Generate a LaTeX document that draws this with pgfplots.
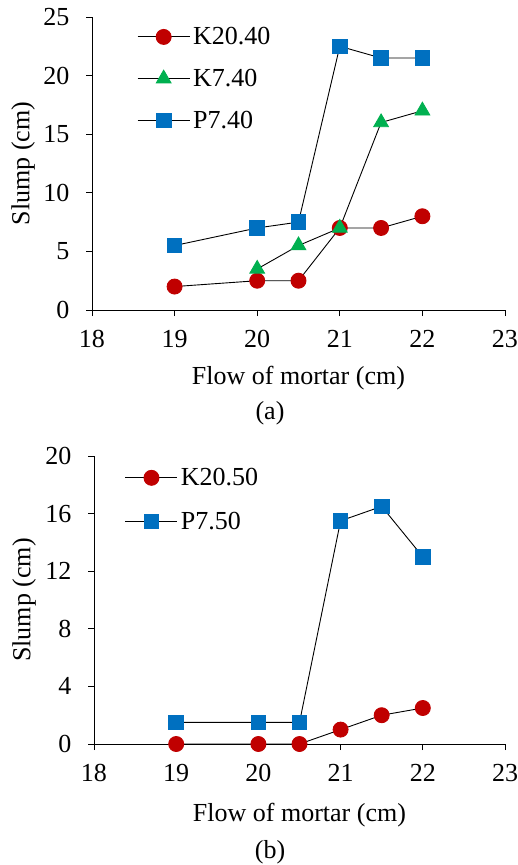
\documentclass[border=0pt]{standalone}
\usepackage{fontspec}
\setmainfont{Liberation Serif}
\usepackage{pgfplots}
\pgfplotsset{compat=1.18}
\definecolor{cred}{HTML}{C00000}
\definecolor{cgreen}{HTML}{00B050}
\definecolor{cblue}{HTML}{0070C0}
\newcommand{\bigf}{\fontsize{26}{30}\selectfont}
\pgfplotsset{
  myaxis/.style={
    scale only axis,
    axis x line*=bottom,
    axis y line*=left,
    axis line style={black, line width=0.9pt},
    tick style={black, line width=0.9pt},
    tick align=outside,
    major tick length=6pt,
    xmin=18, xmax=23,
    xtick={18,19,20,21,22,23},
    clip=false,
    /pgf/number format/assume math mode=true,
    tick label style={font=\bigf},
    xticklabel style={yshift=-11pt},
    yticklabel style={xshift=-13pt},
    xlabel={Flow of mortar (cm)},
    ylabel={Slump (cm)},
    legend cell align=left,
    legend style={draw=none, fill=none, font=\bigf, anchor=north west,
      inner sep=0pt, nodes={inner sep=3pt}},
    legend image code/.code={\draw[mark repeat=2,mark phase=2,#1] plot coordinates {(0pt,0pt)(26pt,0pt)(52pt,0pt)};},
    every axis plot/.append style={black, line width=0.9pt},
  },
  sred/.style={mark=*, mark size=7.5pt, mark options={draw=cred, fill=cred, solid}},
  sgreen/.style={mark=triangle*, mark size=8.5pt, mark options={draw=cgreen, fill=cgreen, solid}},
  sblue/.style={mark=square*, mark size=7.3pt, mark options={draw=cblue, fill=cblue, solid}},
}
\begin{document}
\begin{tikzpicture}
\useasboundingbox (0pt,0pt) rectangle (518pt,-865pt);
\begin{axis}[myaxis,
  at={(92pt,-310pt)}, anchor=south west,
  width=413pt, height=293pt,
  ymin=0, ymax=25, ytick={0,5,10,15,20,25},
  every axis y label/.style={at={(axis description cs:-0.167,0.5)}, rotate=90, anchor=center, font=\bigf},
  every axis x label/.style={at={(axis description cs:0.5,-0.232)}, anchor=center, font=\bigf},
  legend style={at={(axis description cs:0.109,0.975)}, row sep=17pt},
]
\addplot[sred] coordinates {(19,2) (20,2.5) (20.5,2.5) (21,7) (21.5,7) (22,8)};
\addlegendentry{K20.40}
\addplot[sgreen] coordinates {(20,3.5) (20.5,5.5) (21,7) (21.5,16) (22,17)};
\addlegendentry{K7.40}
\addplot[sblue] coordinates {(19,5.5) (20,7) (20.5,7.5) (21,22.5) (21.5,21.5) (22,21.5)};
\addlegendentry{P7.40}
\end{axis}
\node[font=\bigf] at (270pt,-413pt) {(a)};
\begin{axis}[myaxis,
  at={(94pt,-744pt)}, anchor=south west,
  width=411pt, height=288pt,
  ymin=0, ymax=20, ytick={0,4,8,12,16,20},
  every axis y label/.style={at={(axis description cs:-0.170,0.5)}, rotate=90, anchor=center, font=\bigf},
  every axis x label/.style={at={(axis description cs:0.5,-0.247)}, anchor=center, font=\bigf},
  legend style={at={(axis description cs:0.075,0.968)}, row sep=19pt},
]
\addplot[sred] coordinates {(19,0) (20,0) (20.5,0) (21,1) (21.5,2) (22,2.5)};
\addlegendentry{K20.50}
\addplot[sblue] coordinates {(19,1.5) (20,1.5) (20.5,1.5) (21,15.5) (21.5,16.5) (22,13)};
\addlegendentry{P7.50}
\end{axis}
\node[font=\bigf] at (270pt,-852pt) {(b)};
\end{tikzpicture}
\end{document}
